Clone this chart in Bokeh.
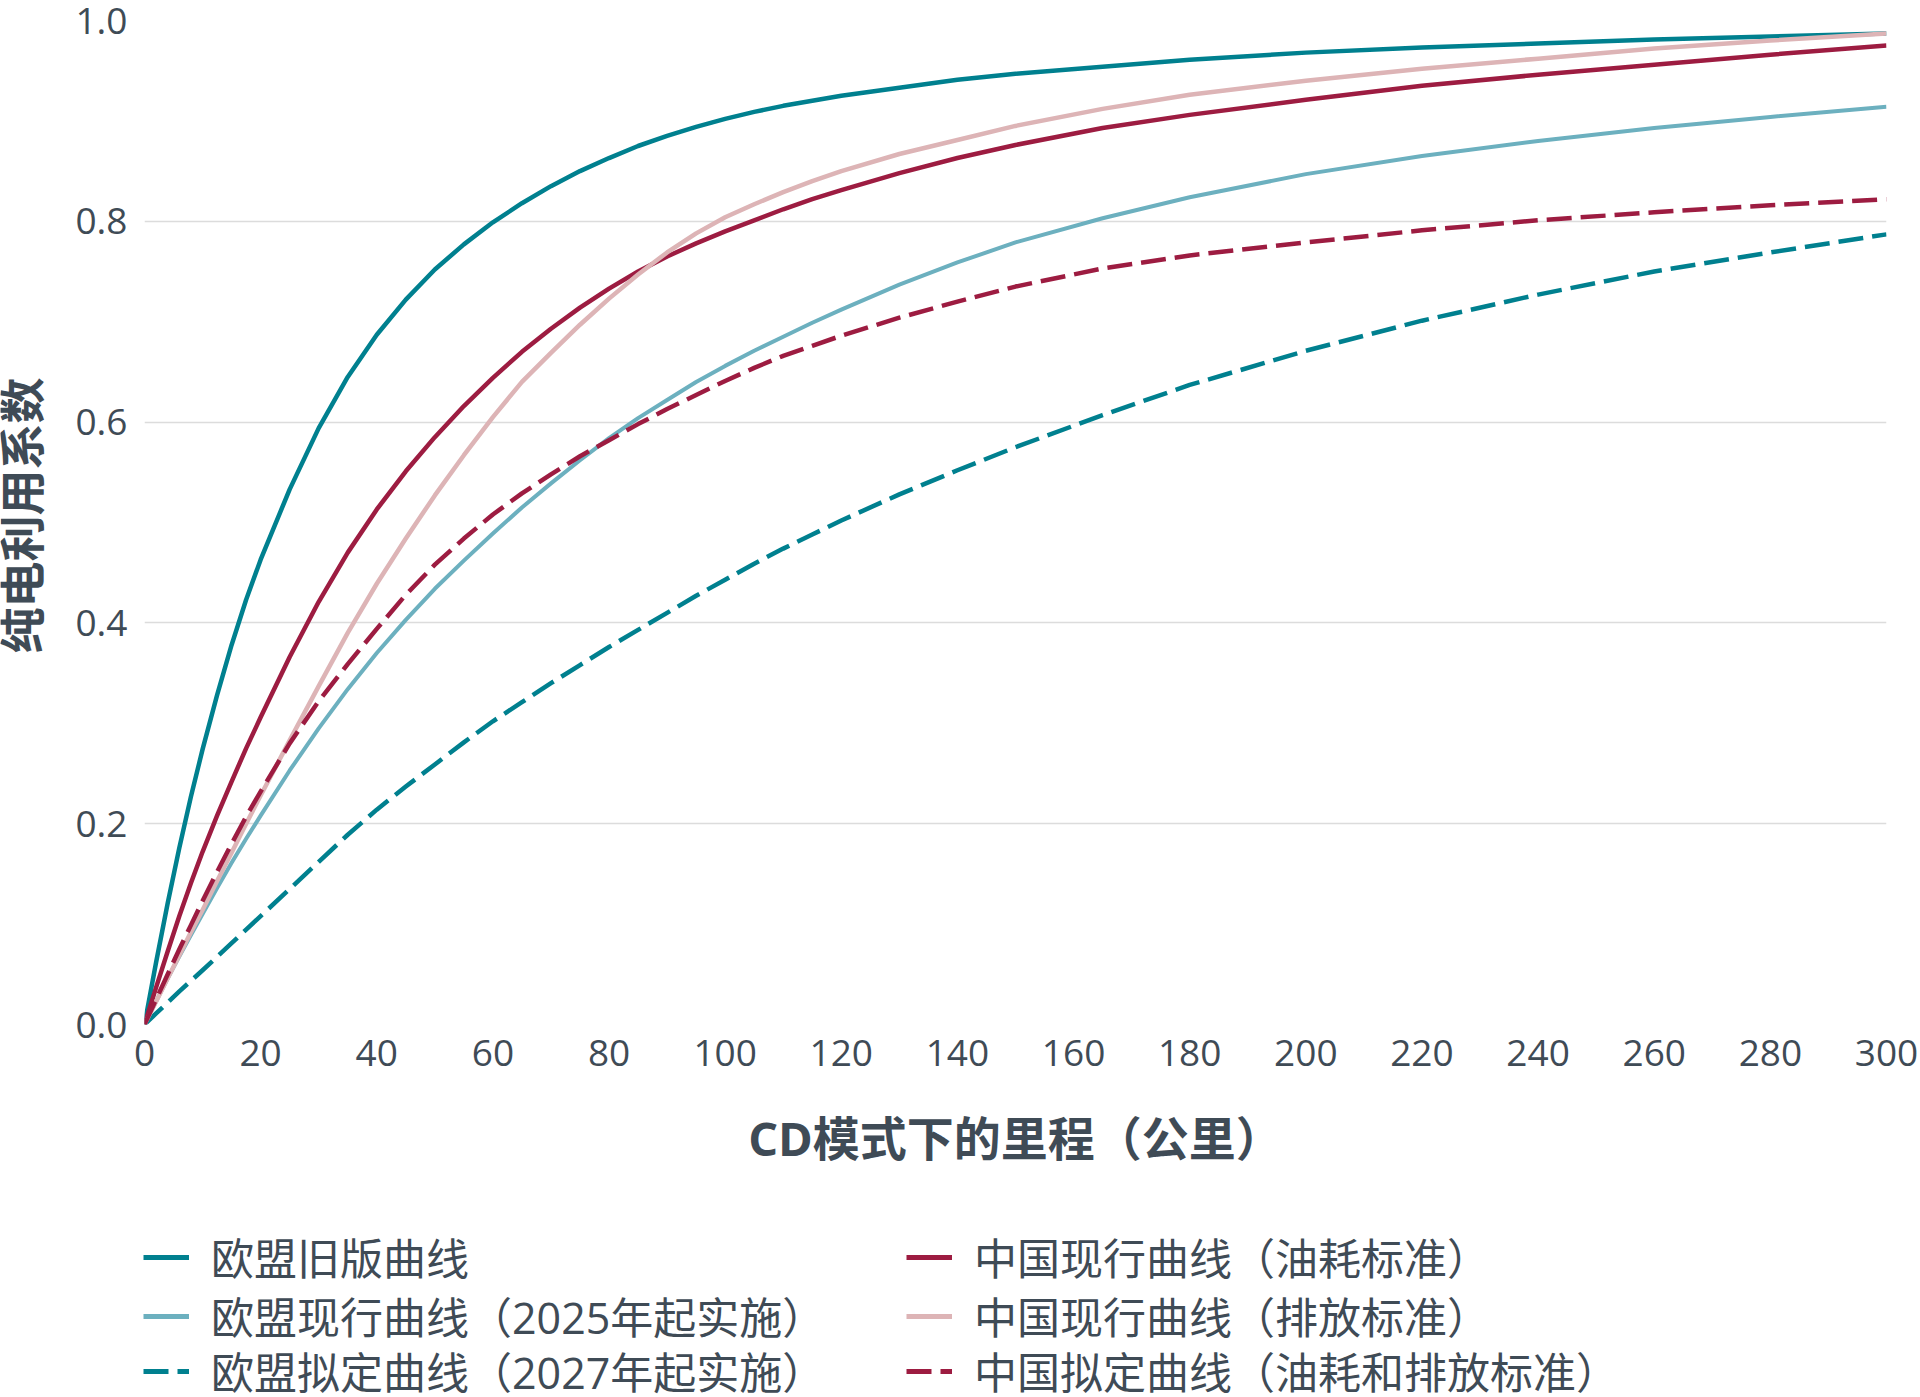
import math
from bokeh.plotting import figure
from bokeh.layouts import column, row
from bokeh.models import Legend, LegendItem, FixedTicker, PrintfTickFormatter, Range1d
from bokeh.core.properties import value
from bokeh.embed import file_html
from bokeh.resources import INLINE

# ---------------- data ----------------
distance_km = [0, 2, 4, 6, 8, 10, 12.5, 15, 17.5, 20, 25, 30, 35, 40, 45, 50, 55, 60, 65, 70,
               75, 80, 85, 90, 95, 100, 105, 110, 115, 120, 130, 140, 150, 165, 180, 200, 220,
               240, 260, 280, 300]

eu_old = [0, 0.062, 0.121, 0.176, 0.227, 0.274, 0.328, 0.378, 0.423, 0.463, 0.533, 0.594,
          0.645, 0.687, 0.722, 0.752, 0.777, 0.799, 0.818, 0.835, 0.850, 0.863, 0.875, 0.885,
          0.894, 0.902, 0.909, 0.915, 0.920, 0.925, 0.933, 0.941, 0.947, 0.954, 0.961, 0.968,
          0.973, 0.977, 0.981, 0.984, 0.987]

eu_current_2025 = [0, 0.023, 0.046, 0.068, 0.089, 0.110, 0.136, 0.161, 0.185, 0.208, 0.253,
                   0.295, 0.334, 0.370, 0.403, 0.434, 0.462, 0.489, 0.515, 0.539, 0.562, 0.584,
                   0.604, 0.622, 0.640, 0.656, 0.671, 0.685, 0.699, 0.712, 0.737, 0.759, 0.779,
                   0.803, 0.824, 0.847, 0.865, 0.880, 0.893, 0.904, 0.914]

eu_proposed_2027 = [0, 0.011, 0.022, 0.033, 0.0435, 0.054, 0.0675, 0.081, 0.0945, 0.108, 0.135,
                    0.162, 0.189, 0.214, 0.237, 0.259, 0.281, 0.302, 0.321, 0.340, 0.358, 0.376,
                    0.393, 0.410, 0.427, 0.443, 0.459, 0.474, 0.488, 0.502, 0.528, 0.552, 0.575,
                    0.607, 0.637, 0.671, 0.701, 0.727, 0.750, 0.769, 0.787]

cn_current_fuel = [0, 0.037, 0.073, 0.108, 0.141, 0.172, 0.208, 0.242, 0.275, 0.306, 0.366,
                   0.421, 0.470, 0.513, 0.551, 0.585, 0.616, 0.644, 0.670, 0.693, 0.714, 0.733,
                   0.750, 0.765, 0.778, 0.790, 0.801, 0.812, 0.822, 0.831, 0.848, 0.863, 0.876,
                   0.893, 0.906, 0.921, 0.935, 0.946, 0.956, 0.966, 0.975]

cn_current_emission = [0, 0.023, 0.046, 0.069, 0.092, 0.114, 0.143, 0.171, 0.200, 0.228, 0.283,
                       0.337, 0.390, 0.439, 0.484, 0.527, 0.567, 0.605, 0.640, 0.669, 0.697,
                       0.723, 0.747, 0.769, 0.788, 0.804, 0.817, 0.829, 0.840, 0.850, 0.867,
                       0.881, 0.895, 0.912, 0.926, 0.940, 0.952, 0.962, 0.972, 0.980, 0.987]

cn_proposed = [0, 0.025, 0.050, 0.075, 0.099, 0.123, 0.152, 0.180, 0.207, 0.232, 0.280, 0.322,
               0.359, 0.394, 0.428, 0.458, 0.484, 0.508, 0.529, 0.548, 0.566, 0.582, 0.598,
               0.613, 0.627, 0.641, 0.654, 0.666, 0.676, 0.686, 0.704, 0.720, 0.735, 0.753,
               0.766, 0.779, 0.791, 0.801, 0.809, 0.816, 0.822]

series_labels = ["欧盟旧版曲线", "欧盟现行曲线（2025年起实施）", "欧盟拟定曲线（2027年起实施）",
                 "中国现行曲线（油耗标准）", "中国现行曲线（排放标准）", "中国拟定曲线（油耗和排放标准）"]
x_ticks = list(range(0, 301, 20))
y_ticks = [0.0, 0.2, 0.4, 0.6, 0.8, 1.0]
x_title = "CD模式下的里程（公里）"
y_title = "纯电利用系数"

# ---------------- styling ----------------
TEXT = "#3f4b56"
FONT = "Open Sans, Noto Sans CJK SC"
TEAL = "#00808f"
LTEAL = "#6cb0bf"
RED = "#9d1c41"
PINK = "#ddb4b6"
DASH = "25 9"

PAGE_W, PAGE_H = 1920, 1397
YT_W = 70          # strip that carries the y-axis title
MAIN_H = 1190      # chart part; the rest holds the legend
FRAME_TOP, FRAME_BOTTOM = 20, 1024

styles = [
    dict(color=TEAL, width=4.5, dash="solid"),
    dict(color=LTEAL, width=4.0, dash="solid"),
    dict(color=TEAL, width=4.5, dash=DASH),
    dict(color=RED, width=4.5, dash="solid"),
    dict(color=PINK, width=4.5, dash="solid"),
    dict(color=RED, width=4.5, dash=DASH),
]
series = [eu_old, eu_current_2025, eu_proposed_2027, cn_current_fuel, cn_current_emission, cn_proposed]


def blank_figure(w, h, xr, yr):
    f = figure(width=w, height=h, output_backend="svg", toolbar_location=None,
               x_range=xr, y_range=yr, x_axis_type=None, y_axis_type=None, min_border=0)
    f.outline_line_color = None
    f.background_fill_color = "white"
    f.border_fill_color = "white"
    return f

# ---- y-axis title strip (its frame is aligned with the chart frame by the row layout) ----
yt = blank_figure(YT_W, MAIN_H, Range1d(0, YT_W),
                  Range1d(MAIN_H - FRAME_BOTTOM, MAIN_H - FRAME_TOP))
yt.text(x=[20], y=[MAIN_H - 515], text=[y_title], angle=math.pi / 2,
        text_align="center", text_baseline="middle", text_color=TEXT,
        text_font=value(FONT), text_font_style="bold", text_font_size="46px")

# ---- main chart ----
p = figure(width=PAGE_W - YT_W, height=MAIN_H, output_backend="svg", toolbar_location=None,
           x_range=Range1d(0, 300), y_range=Range1d(0, 1.0),
           min_border_left=74, min_border_right=34, min_border_top=FRAME_TOP,
           min_border_bottom=MAIN_H - FRAME_BOTTOM)
p.outline_line_color = None
p.background_fill_color = "white"
p.border_fill_color = "white"
p.xgrid.grid_line_color = None
p.ygrid.grid_line_color = "#dcdcdc"
p.ygrid.grid_line_width = 1.5

for ax in (p.xaxis[0], p.yaxis[0]):
    ax.axis_line_color = None
    ax.major_tick_line_color = None
    ax.minor_tick_line_color = None
    ax.major_label_text_font = FONT
    ax.major_label_text_font_size = "37px"
    ax.major_label_text_color = TEXT

p.xaxis.ticker = FixedTicker(ticks=x_ticks)
p.yaxis.ticker = FixedTicker(ticks=y_ticks)
p.yaxis.formatter = PrintfTickFormatter(format="%.1f")
p.xaxis.major_label_standoff = 9
p.yaxis.major_label_standoff = 11
p.xaxis.axis_label = x_title
p.xaxis.axis_label_text_font = FONT
p.xaxis.axis_label_text_font_style = "bold"
p.xaxis.axis_label_text_color = TEXT
p.xaxis.axis_label_text_font_size = "47px"
p.xaxis.axis_label_standoff = 37

for ys, st in zip(series, styles):
    p.line(distance_km, ys, line_color=st["color"], line_width=st["width"],
           line_dash=st["dash"], line_cap="butt", line_join="round")

# ---- legend strip ----
lf = blank_figure(PAGE_W, PAGE_H - MAIN_H, Range1d(0, 1), Range1d(0, 1))
proxies = []
for st in styles:
    # key-only lines, placed outside the visible range so only the legend key shows
    proxies.append(lf.line([-2, -1], [-2, -2], line_color=st["color"], line_width=5,
                           line_dash=st["dash"], line_cap="butt"))

LEG_H = 60
row_centers_from_bottom = [139, 80, 25]
col_x = [143, 906]
for i, lab in enumerate(series_labels):
    col, r = divmod(i, 3)
    lg = Legend(items=[LegendItem(label=lab, renderers=[proxies[i]])],
                location=(col_x[col], row_centers_from_bottom[r] - LEG_H // 2),
                orientation="vertical")
    lg.label_text_font = FONT
    lg.label_text_font_size = "43px"
    lg.label_text_color = TEXT
    lg.glyph_width = 46
    lg.glyph_height = LEG_H
    lg.label_height = LEG_H
    lg.label_standoff = 22
    lg.spacing = 0
    lg.padding = 0
    lg.margin = 0
    lg.border_line_color = None
    lg.background_fill_alpha = 0
    lf.add_layout(lg)

layout = column(row(yt, p), lf)
open("out.html", "w").write(file_html(layout, INLINE))
